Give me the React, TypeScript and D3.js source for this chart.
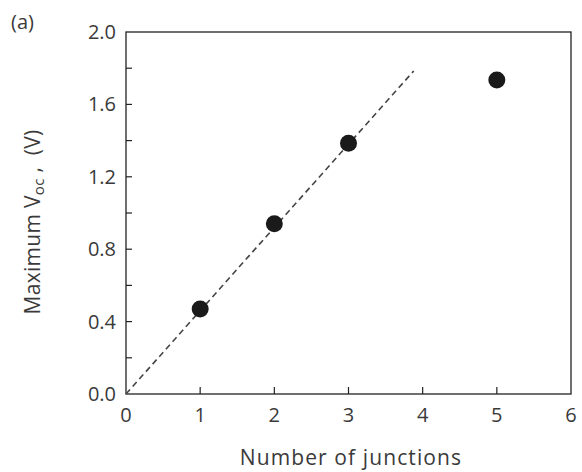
import { useEffect, useRef } from 'react';
import * as d3 from 'd3';

const junctions = [1, 2, 3, 5];
const maxVoc = [0.47, 0.94, 1.385, 1.735];
const fitLine: [number, number][] = [[0, 0], [3.88, 1.785]];
const xTicks = [0, 1, 2, 3, 4, 5, 6];
const yTicks = [0, 0.2, 0.4, 0.6, 0.8, 1.0, 1.2, 1.4, 1.6, 1.8, 2.0];
const yLabels = [0, 0.4, 0.8, 1.2, 1.6, 2.0];

export default function App() {
    const svgRef = useRef<SVGSVGElement>(null);
    const width = 582;
    const height = 472;

    useEffect(() => {
        if (!svgRef.current) return;
        const svg = d3.select(svgRef.current);
        svg.selectAll('*').remove();

        const margin = { top: 32, right: 11, bottom: 78, left: 126 };
        const innerWidth = width - margin.left - margin.right;
        const innerHeight = height - margin.top - margin.bottom;
        const font = "'Open Sans', sans-serif";
        const textColor = '#3a3a3a';

        const g = svg.append('g')
            .attr('transform', `translate(${margin.left},${margin.top})`);

        const x = d3.scaleLinear().domain([0, 6]).range([0, innerWidth]);
        const y = d3.scaleLinear().domain([0, 2]).range([innerHeight, 0]);

        // frame
        g.append('rect')
            .attr('width', innerWidth)
            .attr('height', innerHeight)
            .attr('fill', 'none')
            .attr('stroke', '#222')
            .attr('stroke-width', 1.3);

        // inward ticks
        g.selectAll('.xt')
            .data(xTicks.slice(1, -1))
            .join('line')
            .attr('x1', d => x(d)).attr('x2', d => x(d))
            .attr('y1', innerHeight).attr('y2', innerHeight - 7)
            .attr('stroke', '#222').attr('stroke-width', 1.2);

        g.selectAll('.yt')
            .data(yTicks.slice(1, -1))
            .join('line')
            .attr('y1', d => y(d)).attr('y2', d => y(d))
            .attr('x1', 0).attr('x2', 6)
            .attr('stroke', '#222').attr('stroke-width', 1.2);

        // tick labels
        g.selectAll('.xl')
            .data(xTicks)
            .join('text')
            .attr('x', d => x(d))
            .attr('y', innerHeight + 28)
            .attr('text-anchor', 'middle')
            .attr('font-family', font)
            .attr('font-size', 20)
            .attr('fill', textColor)
            .text(d => d);

        g.selectAll('.yl')
            .data(yLabels)
            .join('text')
            .attr('x', -10)
            .attr('y', d => y(d) + 7)
            .attr('text-anchor', 'end')
            .attr('font-family', font)
            .attr('font-size', 20)
            .attr('fill', textColor)
            .text(d => d.toFixed(1));

        // dashed fit line
        g.append('path')
            .datum(fitLine)
            .attr('d', d3.line<[number, number]>().x(d => x(d[0])).y(d => y(d[1])))
            .attr('stroke', '#444')
            .attr('stroke-width', 1.6)
            .attr('stroke-dasharray', '6,4')
            .attr('fill', 'none');

        // points
        g.selectAll('.pt')
            .data(junctions.map((j, i) => [j, maxVoc[i]]))
            .join('circle')
            .attr('cx', d => x(d[0]))
            .attr('cy', d => y(d[1]))
            .attr('r', 8.5)
            .attr('fill', '#1a1a1a');

        // axis titles
        svg.append('text')
            .attr('x', 351)
            .attr('y', 465)
            .attr('text-anchor', 'middle')
            .attr('font-family', font)
            .attr('font-size', 21)
            .attr('letter-spacing', 1.1)
            .attr('fill', textColor)
            .text('Number of junctions');

        const yt = svg.append('text')
            .attr('transform', `translate(40,222) rotate(-90)`)
            .attr('text-anchor', 'middle')
            .attr('font-family', font)
            .attr('font-size', 21)
            .attr('letter-spacing', 0.3)
            .attr('fill', textColor);
        yt.append('tspan').text('Maximum V');
        yt.append('tspan').attr('font-size', 15).attr('dy', 4).text('oc');
        yt.append('tspan').attr('dy', -4).text('\u00a0,\u00a0\u00a0(V)');

        svg.append('text')
            .attr('x', 11)
            .attr('y', 29)
            .attr('font-family', font)
            .attr('font-size', 20)
            .attr('fill', textColor)
            .text('(a)');
    }, []);

    return (
        <svg
            ref={svgRef}
            width={width}
            height={height}
            style={{ position: 'absolute', left: 0, top: 0, background: '#fff' }}
        />
    );
}
